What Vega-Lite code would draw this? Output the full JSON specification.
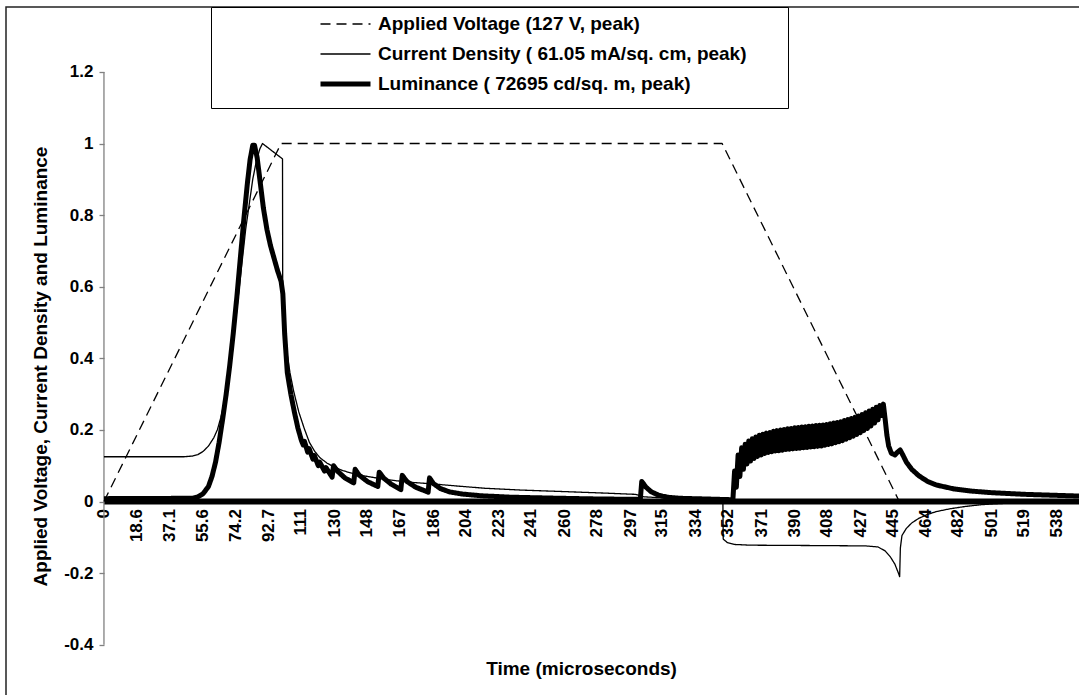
{
  "$schema": "https://vega.github.io/schema/vega-lite/v6.json",
  "width": 1080,
  "height": 700,
  "padding": {"left": 6, "top": 6, "right": 0, "bottom": 0},
  "background": "white",
  "config": {
    "font": "Liberation Sans",
    "view": {"stroke": "#222222", "strokeWidth": 1.5},
    "axis": {"labelFont": "Liberation Sans", "titleFont": "Liberation Sans", "labelFontWeight": "bold", "titleFontWeight": "bold", "labelColor": "black", "titleColor": "black", "grid": false}
  },
  "resolve": {"axis": {"x": "independent", "y": "independent"}},
  "datasets": {
    "curves": [
      {"series": "Voltage", "time": 0, "value": 0},
      {"series": "Voltage", "time": 100, "value": 1},
      {"series": "Voltage", "time": 349, "value": 1},
      {"series": "Voltage", "time": 449, "value": 0},
      {"series": "Voltage", "time": 552, "value": 0},
      {"series": "Current", "time": 0, "value": 0.125},
      {"series": "Current", "time": 45, "value": 0.125},
      {"series": "Current", "time": 50, "value": 0.127},
      {"series": "Current", "time": 53, "value": 0.131},
      {"series": "Current", "time": 56, "value": 0.14},
      {"series": "Current", "time": 59, "value": 0.155},
      {"series": "Current", "time": 62, "value": 0.178},
      {"series": "Current", "time": 64, "value": 0.2},
      {"series": "Current", "time": 66, "value": 0.235},
      {"series": "Current", "time": 68, "value": 0.28},
      {"series": "Current", "time": 70, "value": 0.34},
      {"series": "Current", "time": 72, "value": 0.41},
      {"series": "Current", "time": 74, "value": 0.49},
      {"series": "Current", "time": 76, "value": 0.58},
      {"series": "Current", "time": 78, "value": 0.67},
      {"series": "Current", "time": 80, "value": 0.76},
      {"series": "Current", "time": 82, "value": 0.83},
      {"series": "Current", "time": 84, "value": 0.9},
      {"series": "Current", "time": 86, "value": 0.95},
      {"series": "Current", "time": 88, "value": 0.985},
      {"series": "Current", "time": 89.5, "value": 1.0},
      {"series": "Current", "time": 100.8, "value": 0.957},
      {"series": "Current", "time": 100.9, "value": 0.62},
      {"series": "Current", "time": 102, "value": 0.5},
      {"series": "Current", "time": 103.5, "value": 0.41},
      {"series": "Current", "time": 105, "value": 0.36},
      {"series": "Current", "time": 107, "value": 0.31},
      {"series": "Current", "time": 110, "value": 0.25},
      {"series": "Current", "time": 113, "value": 0.205},
      {"series": "Current", "time": 116, "value": 0.165},
      {"series": "Current", "time": 119, "value": 0.14},
      {"series": "Current", "time": 122, "value": 0.122},
      {"series": "Current", "time": 126, "value": 0.107},
      {"series": "Current", "time": 130, "value": 0.096},
      {"series": "Current", "time": 135, "value": 0.086},
      {"series": "Current", "time": 140, "value": 0.079},
      {"series": "Current", "time": 145, "value": 0.073},
      {"series": "Current", "time": 150, "value": 0.069},
      {"series": "Current", "time": 157, "value": 0.063},
      {"series": "Current", "time": 165, "value": 0.058},
      {"series": "Current", "time": 175, "value": 0.053},
      {"series": "Current", "time": 186, "value": 0.049},
      {"series": "Current", "time": 200, "value": 0.043},
      {"series": "Current", "time": 215, "value": 0.037},
      {"series": "Current", "time": 235, "value": 0.032},
      {"series": "Current", "time": 258, "value": 0.028},
      {"series": "Current", "time": 280, "value": 0.024},
      {"series": "Current", "time": 300, "value": 0.02},
      {"series": "Current", "time": 305, "value": 0.013},
      {"series": "Current", "time": 320, "value": 0.009},
      {"series": "Current", "time": 349.4, "value": 0.006},
      {"series": "Current", "time": 349.6, "value": -0.105},
      {"series": "Current", "time": 352, "value": -0.115},
      {"series": "Current", "time": 356, "value": -0.12},
      {"series": "Current", "time": 365, "value": -0.122},
      {"series": "Current", "time": 400, "value": -0.123},
      {"series": "Current", "time": 430, "value": -0.124},
      {"series": "Current", "time": 437, "value": -0.127},
      {"series": "Current", "time": 441, "value": -0.138},
      {"series": "Current", "time": 444, "value": -0.155},
      {"series": "Current", "time": 446.5, "value": -0.175},
      {"series": "Current", "time": 448.5, "value": -0.2},
      {"series": "Current", "time": 449.2, "value": -0.21},
      {"series": "Current", "time": 449.6, "value": -0.13},
      {"series": "Current", "time": 450.5, "value": -0.095},
      {"series": "Current", "time": 453, "value": -0.075},
      {"series": "Current", "time": 456, "value": -0.06},
      {"series": "Current", "time": 460, "value": -0.047},
      {"series": "Current", "time": 465, "value": -0.036},
      {"series": "Current", "time": 470, "value": -0.028},
      {"series": "Current", "time": 478, "value": -0.02},
      {"series": "Current", "time": 486, "value": -0.014},
      {"series": "Current", "time": 495, "value": -0.009},
      {"series": "Current", "time": 505, "value": -0.006},
      {"series": "Current", "time": 520, "value": -0.003},
      {"series": "Current", "time": 552, "value": -0.001},
      {"series": "Luminance", "time": 0, "value": 0.008},
      {"series": "Luminance", "time": 50, "value": 0.009},
      {"series": "Luminance", "time": 53, "value": 0.013},
      {"series": "Luminance", "time": 56, "value": 0.022},
      {"series": "Luminance", "time": 59, "value": 0.042},
      {"series": "Luminance", "time": 61, "value": 0.07},
      {"series": "Luminance", "time": 63, "value": 0.11},
      {"series": "Luminance", "time": 65, "value": 0.165},
      {"series": "Luminance", "time": 67, "value": 0.23},
      {"series": "Luminance", "time": 69, "value": 0.3},
      {"series": "Luminance", "time": 71, "value": 0.38},
      {"series": "Luminance", "time": 73, "value": 0.47},
      {"series": "Luminance", "time": 75, "value": 0.57},
      {"series": "Luminance", "time": 77, "value": 0.68},
      {"series": "Luminance", "time": 79, "value": 0.79},
      {"series": "Luminance", "time": 81, "value": 0.89},
      {"series": "Luminance", "time": 82.5, "value": 0.955},
      {"series": "Luminance", "time": 84, "value": 0.995},
      {"series": "Luminance", "time": 85, "value": 0.995},
      {"series": "Luminance", "time": 86.5, "value": 0.96},
      {"series": "Luminance", "time": 88, "value": 0.9},
      {"series": "Luminance", "time": 90, "value": 0.82},
      {"series": "Luminance", "time": 92, "value": 0.76},
      {"series": "Luminance", "time": 94, "value": 0.715},
      {"series": "Luminance", "time": 96, "value": 0.68},
      {"series": "Luminance", "time": 98, "value": 0.645},
      {"series": "Luminance", "time": 100, "value": 0.615},
      {"series": "Luminance", "time": 101, "value": 0.58},
      {"series": "Luminance", "time": 102, "value": 0.47},
      {"series": "Luminance", "time": 103.5, "value": 0.36},
      {"series": "Luminance", "time": 105.5, "value": 0.3},
      {"series": "Luminance", "time": 107.5, "value": 0.25},
      {"series": "Luminance", "time": 109.5, "value": 0.205},
      {"series": "Luminance", "time": 111.5, "value": 0.17},
      {"series": "Luminance", "time": 112.5, "value": 0.158},
      {"series": "Luminance", "time": 113.2, "value": 0.168},
      {"series": "Luminance", "time": 115, "value": 0.138},
      {"series": "Luminance", "time": 115.8, "value": 0.148},
      {"series": "Luminance", "time": 118, "value": 0.118},
      {"series": "Luminance", "time": 118.8, "value": 0.128},
      {"series": "Luminance", "time": 121, "value": 0.1},
      {"series": "Luminance", "time": 121.8, "value": 0.11},
      {"series": "Luminance", "time": 124.5, "value": 0.085},
      {"series": "Luminance", "time": 125.3, "value": 0.095},
      {"series": "Luminance", "time": 128.8, "value": 0.068},
      {"series": "Luminance", "time": 129.6, "value": 0.1},
      {"series": "Luminance", "time": 132, "value": 0.084},
      {"series": "Luminance", "time": 136, "value": 0.066},
      {"series": "Luminance", "time": 141, "value": 0.052},
      {"series": "Luminance", "time": 141.8, "value": 0.09},
      {"series": "Luminance", "time": 144, "value": 0.074},
      {"series": "Luminance", "time": 149, "value": 0.055},
      {"series": "Luminance", "time": 154.6, "value": 0.042},
      {"series": "Luminance", "time": 155.4, "value": 0.082},
      {"series": "Luminance", "time": 158, "value": 0.065},
      {"series": "Luminance", "time": 162, "value": 0.049},
      {"series": "Luminance", "time": 167.6, "value": 0.033},
      {"series": "Luminance", "time": 168.4, "value": 0.073},
      {"series": "Luminance", "time": 171, "value": 0.056},
      {"series": "Luminance", "time": 176, "value": 0.04},
      {"series": "Luminance", "time": 183, "value": 0.026},
      {"series": "Luminance", "time": 183.8, "value": 0.066},
      {"series": "Luminance", "time": 186, "value": 0.05},
      {"series": "Luminance", "time": 190, "value": 0.036},
      {"series": "Luminance", "time": 195, "value": 0.027},
      {"series": "Luminance", "time": 202, "value": 0.021},
      {"series": "Luminance", "time": 213, "value": 0.016},
      {"series": "Luminance", "time": 230, "value": 0.012},
      {"series": "Luminance", "time": 258, "value": 0.009},
      {"series": "Luminance", "time": 280, "value": 0.007},
      {"series": "Luminance", "time": 302.8, "value": 0.006},
      {"series": "Luminance", "time": 303.6, "value": 0.056},
      {"series": "Luminance", "time": 306, "value": 0.04},
      {"series": "Luminance", "time": 309, "value": 0.027},
      {"series": "Luminance", "time": 313, "value": 0.018},
      {"series": "Luminance", "time": 318, "value": 0.012},
      {"series": "Luminance", "time": 325, "value": 0.009},
      {"series": "Luminance", "time": 340, "value": 0.007},
      {"series": "Luminance", "time": 354.5, "value": 0.005},
      {"series": "Luminance", "time": 355, "value": 0.0},
      {"series": "Luminance", "time": 356, "value": 0.085},
      {"series": "Luminance", "time": 357, "value": 0.04},
      {"series": "Luminance", "time": 358, "value": 0.13},
      {"series": "Luminance", "time": 359, "value": 0.07},
      {"series": "Luminance", "time": 360, "value": 0.15},
      {"series": "Luminance", "time": 361, "value": 0.09},
      {"series": "Luminance", "time": 362, "value": 0.16},
      {"series": "Luminance", "time": 363, "value": 0.105},
      {"series": "Luminance", "time": 364, "value": 0.169},
      {"series": "Luminance", "time": 365, "value": 0.113},
      {"series": "Luminance", "time": 366, "value": 0.175},
      {"series": "Luminance", "time": 367, "value": 0.12},
      {"series": "Luminance", "time": 368, "value": 0.18},
      {"series": "Luminance", "time": 369, "value": 0.126},
      {"series": "Luminance", "time": 370, "value": 0.185},
      {"series": "Luminance", "time": 371, "value": 0.13},
      {"series": "Luminance", "time": 372, "value": 0.188},
      {"series": "Luminance", "time": 373, "value": 0.134},
      {"series": "Luminance", "time": 374, "value": 0.191},
      {"series": "Luminance", "time": 375, "value": 0.137},
      {"series": "Luminance", "time": 376, "value": 0.193},
      {"series": "Luminance", "time": 377, "value": 0.139},
      {"series": "Luminance", "time": 378, "value": 0.196},
      {"series": "Luminance", "time": 379, "value": 0.141},
      {"series": "Luminance", "time": 380, "value": 0.198},
      {"series": "Luminance", "time": 381, "value": 0.142},
      {"series": "Luminance", "time": 382, "value": 0.2},
      {"series": "Luminance", "time": 383, "value": 0.143},
      {"series": "Luminance", "time": 384, "value": 0.201},
      {"series": "Luminance", "time": 385, "value": 0.145},
      {"series": "Luminance", "time": 386, "value": 0.203},
      {"series": "Luminance", "time": 387, "value": 0.146},
      {"series": "Luminance", "time": 388, "value": 0.204},
      {"series": "Luminance", "time": 389, "value": 0.147},
      {"series": "Luminance", "time": 390, "value": 0.206},
      {"series": "Luminance", "time": 391, "value": 0.148},
      {"series": "Luminance", "time": 392, "value": 0.207},
      {"series": "Luminance", "time": 393, "value": 0.149},
      {"series": "Luminance", "time": 394, "value": 0.208},
      {"series": "Luminance", "time": 395, "value": 0.15},
      {"series": "Luminance", "time": 396, "value": 0.209},
      {"series": "Luminance", "time": 397, "value": 0.151},
      {"series": "Luminance", "time": 398, "value": 0.21},
      {"series": "Luminance", "time": 399, "value": 0.152},
      {"series": "Luminance", "time": 400, "value": 0.211},
      {"series": "Luminance", "time": 401, "value": 0.153},
      {"series": "Luminance", "time": 402, "value": 0.212},
      {"series": "Luminance", "time": 403, "value": 0.154},
      {"series": "Luminance", "time": 404, "value": 0.213},
      {"series": "Luminance", "time": 405, "value": 0.155},
      {"series": "Luminance", "time": 406, "value": 0.214},
      {"series": "Luminance", "time": 407, "value": 0.157},
      {"series": "Luminance", "time": 408, "value": 0.215},
      {"series": "Luminance", "time": 409, "value": 0.159},
      {"series": "Luminance", "time": 410, "value": 0.217},
      {"series": "Luminance", "time": 411, "value": 0.161},
      {"series": "Luminance", "time": 412, "value": 0.219},
      {"series": "Luminance", "time": 413, "value": 0.164},
      {"series": "Luminance", "time": 414, "value": 0.221},
      {"series": "Luminance", "time": 415, "value": 0.167},
      {"series": "Luminance", "time": 416, "value": 0.223},
      {"series": "Luminance", "time": 417, "value": 0.17},
      {"series": "Luminance", "time": 418, "value": 0.226},
      {"series": "Luminance", "time": 419, "value": 0.174},
      {"series": "Luminance", "time": 420, "value": 0.229},
      {"series": "Luminance", "time": 421, "value": 0.178},
      {"series": "Luminance", "time": 422, "value": 0.232},
      {"series": "Luminance", "time": 423, "value": 0.182},
      {"series": "Luminance", "time": 424, "value": 0.235},
      {"series": "Luminance", "time": 425, "value": 0.187},
      {"series": "Luminance", "time": 426, "value": 0.239},
      {"series": "Luminance", "time": 427, "value": 0.192},
      {"series": "Luminance", "time": 428, "value": 0.243},
      {"series": "Luminance", "time": 429, "value": 0.198},
      {"series": "Luminance", "time": 430, "value": 0.248},
      {"series": "Luminance", "time": 431, "value": 0.204},
      {"series": "Luminance", "time": 432, "value": 0.253},
      {"series": "Luminance", "time": 433, "value": 0.211},
      {"series": "Luminance", "time": 434, "value": 0.258},
      {"series": "Luminance", "time": 435, "value": 0.219},
      {"series": "Luminance", "time": 436, "value": 0.263},
      {"series": "Luminance", "time": 437, "value": 0.228},
      {"series": "Luminance", "time": 438, "value": 0.268},
      {"series": "Luminance", "time": 439, "value": 0.24},
      {"series": "Luminance", "time": 440, "value": 0.272},
      {"series": "Luminance", "time": 441, "value": 0.23},
      {"series": "Luminance", "time": 442, "value": 0.185},
      {"series": "Luminance", "time": 443, "value": 0.155},
      {"series": "Luminance", "time": 444.5, "value": 0.135},
      {"series": "Luminance", "time": 446.5, "value": 0.13},
      {"series": "Luminance", "time": 448, "value": 0.138},
      {"series": "Luminance", "time": 449.5, "value": 0.144},
      {"series": "Luminance", "time": 451, "value": 0.13},
      {"series": "Luminance", "time": 453, "value": 0.11},
      {"series": "Luminance", "time": 456, "value": 0.09},
      {"series": "Luminance", "time": 460, "value": 0.072},
      {"series": "Luminance", "time": 465, "value": 0.056},
      {"series": "Luminance", "time": 470, "value": 0.046},
      {"series": "Luminance", "time": 480, "value": 0.035},
      {"series": "Luminance", "time": 490, "value": 0.029},
      {"series": "Luminance", "time": 500, "value": 0.025},
      {"series": "Luminance", "time": 520, "value": 0.02},
      {"series": "Luminance", "time": 552, "value": 0.015}
    ]
  },
  "layer": [
    {
      "data": {"values": [{}]},
      "mark": {"type": "rule", "color": "black", "strokeWidth": 6},
      "encoding": {
        "x": {"datum": 0, "scale": {"domain": [-55.3, 554.4], "nice": false, "zero": false}, "axis": null},
        "x2": {"datum": 552},
        "y": {"datum": 0, "scale": {"domain": [-0.574, 1.3813], "nice": false, "zero": false}, "axis": null}
      }
    },
    {
      "data": {"values": [{}]},
      "mark": {"type": "rule", "color": "#808080", "strokeWidth": 1.3},
      "encoding": {
        "x": {"datum": 0, "scale": {"domain": [-55.3, 554.4], "nice": false, "zero": false}, "axis": null},
        "y": {"datum": -0.4, "scale": {"domain": [-0.574, 1.3813], "nice": false, "zero": false}, "axis": null},
        "y2": {"datum": 1.2}
      }
    },
    {
      "data": {"name": "curves"},
      "mark": {"type": "line", "color": "black", "clip": true, "strokeJoin": "round"},
      "encoding": {
        "x": {
          "field": "time", "type": "quantitative",
          "scale": {"domain": [-55.3, 554.4], "nice": false, "zero": false},
          "axis": {
            "orient": "bottom", "offset": -205.5,
            "values": [0, 18.6, 37.1, 55.6, 74.2, 92.7, 111, 130, 148, 167, 186, 204, 223, 241, 260, 278, 297, 315, 334, 352, 371, 390, 408, 427, 445, 464, 482, 501, 519, 538],
            "labelExpr": "datum.value + ''",
            "domain": false, "ticks": false, "tickSize": 0,
            "labelAngle": 270, "labelAlign": "right", "labelBaseline": "middle",
            "labelPadding": 7, "labelFontSize": 17, "labelOverlap": false, "labelFlush": false, "labelBound": false,
            "title": "Time (microseconds)", "titleFontSize": 19,
            "titleX": 575, "titleY": 167, "titleAlign": "center", "titleBaseline": "middle", "titleAngle": 0
          }
        },
        "y": {
          "field": "value", "type": "quantitative",
          "scale": {"domain": [-0.574, 1.3813], "nice": false, "zero": false},
          "axis": {
            "orient": "left", "offset": -98,
            "values": [-0.4, -0.2, 0, 0.2, 0.4, 0.6, 0.8, 1, 1.2],
            "labelExpr": "datum.value + ''",
            "domain": false, "ticks": true, "tickSize": 5, "tickColor": "#808080", "tickWidth": 1.3,
            "labelPadding": 6, "labelFontSize": 17, "labelOverlap": false, "labelFlush": false,
            "title": "Applied Voltage, Current Density and Luminance", "titleFontSize": 19,
            "titleX": -64, "titleY": 359, "titleAngle": 270, "titleAlign": "center", "titleBaseline": "middle"
          }
        },
        "strokeDash": {
          "field": "series", "type": "nominal",
          "scale": {"domain": ["Voltage", "Current", "Luminance"], "range": [[10, 6], [1, 0], [1, 0]]},
          "legend": {
            "orient": "none", "legendX": 205, "legendY": 0,
            "title": " ", "titleOrient": "right", "titlePadding": 39, "titleFontSize": 104,
            "symbolType": "stroke", "symbolSize": 2500, "symbolOffset": 105, "labelOffset": 5,
            "symbolStrokeColor": "black", "clipHeight": 30, "rowPadding": 0, "padding": 2,
            "fillColor": "white", "strokeColor": "black",
            "labelFont": "Liberation Sans", "labelFontSize": 19, "labelFontWeight": "bold", "labelColor": "black", "labelLimit": 700,
            "labelExpr": "datum.label == 'Voltage' ? 'Applied Voltage (127 V, peak)' : datum.label == 'Current' ? 'Current Density ( 61.05 mA/sq. cm, peak)' : 'Luminance ( 72695 cd/sq. m, peak)'"
          }
        },
        "strokeWidth": {
          "field": "series", "type": "nominal",
          "scale": {"type": "ordinal", "domain": ["Voltage", "Current", "Luminance"], "range": [1.3, 1.3, 5]},
          "legend": {
            "orient": "none", "legendX": 205, "legendY": 0,
            "title": " ", "titleOrient": "right", "titlePadding": 39, "titleFontSize": 104,
            "symbolType": "stroke", "symbolSize": 2500, "symbolOffset": 105, "labelOffset": 5,
            "symbolStrokeColor": "black", "clipHeight": 30, "rowPadding": 0, "padding": 2,
            "fillColor": "white", "strokeColor": "black",
            "labelFont": "Liberation Sans", "labelFontSize": 19, "labelFontWeight": "bold", "labelColor": "black", "labelLimit": 700,
            "labelExpr": "datum.label == 'Voltage' ? 'Applied Voltage (127 V, peak)' : datum.label == 'Current' ? 'Current Density ( 61.05 mA/sq. cm, peak)' : 'Luminance ( 72695 cd/sq. m, peak)'"
          }
        }
      }
    }
  ]
}
